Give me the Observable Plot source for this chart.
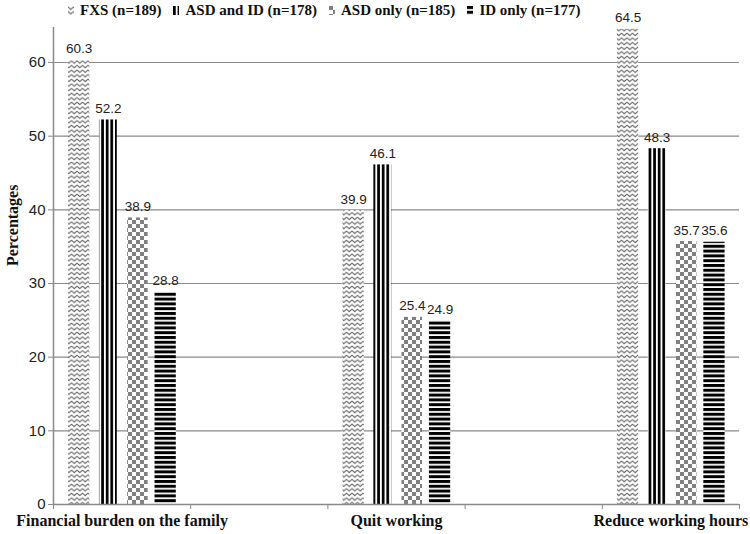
<!DOCTYPE html>
<html>
<head>
<meta charset="utf-8">
<script src="https://cdn.jsdelivr.net/npm/d3@7"></script>
<script src="https://cdn.jsdelivr.net/npm/@observablehq/plot@0.6"></script>
<style>
  html, body { margin: 0; padding: 0; background: #fff; }
  #wrap { position: relative; width: 750px; height: 534px; }
  #legend {
    position: absolute; left: 68px; top: 2px; display: flex; align-items: center;
    font-family: "Liberation Serif", "DejaVu Serif", serif; font-weight: bold;
    font-size: 15px; color: #111; white-space: nowrap;
  }
  #legend .item { display: flex; align-items: center; margin-right: 12px; }
  #legend svg { margin-right: 6px; }
</style>
</head>
<body>
<div id="wrap"><div id="legend"></div></div>
<script>
// ---- data ----
const categories = ["Financial burden on the family", "Quit working", "Reduce working hours"];
// Excel-style category axis with two blank categories between the groups
const axisCategories = ["Financial burden on the family", "", "Quit working", "", "Reduce working hours"];
const series = ["FXS (n=189)", "ASD and ID (n=178)", "ASD only (n=185)", "ID only (n=177)"];
const fxs     = [60.3, 39.9, 64.5];
const asdId   = [52.2, 46.1, 48.3];
const asdOnly = [38.9, 25.4, 35.7];
const idOnly  = [28.8, 24.9, 35.6];
const yTicks = [0, 10, 20, 30, 40, 50, 60];

// ---- styling / layout ----
const patternIds = ["pFxs", "pAsdId", "pAsdOnly", "pIdOnly"];
const barOffsets = [[0.11, 0.265], [0.335, 0.465], [0.54, 0.69], [0.74, 0.895]];
const grid = "#8a8a8a";
const sans = "'Liberation Sans', Arial, sans-serif";
const serif = "'Liberation Serif', 'Times New Roman', serif";

const values = [fxs, asdId, asdOnly, idOnly];
const rows = [];
series.forEach((s, j) => categories.forEach((c, i) => {
  rows.push({cat: c, series: s, j, slot: axisCategories.indexOf(c), value: values[j][i]});
}));
const x1 = d => d.slot + barOffsets[d.j][0];
const x2 = d => d.slot + barOffsets[d.j][1];

const plot = Plot.plot({
  width: 750,
  height: 534,
  marginLeft: 53,
  marginRight: 11,
  marginTop: 27,
  marginBottom: 30,
  style: {background: "transparent", fontFamily: sans, overflow: "visible"},
  x: {type: "linear", domain: [0, axisCategories.length]},
  y: {domain: [0, 64.75]},
  marks: [
    Plot.ruleY(yTicks.filter(d => d > 0), {stroke: grid, strokeWidth: 1.2}),
    ...series.map((s, j) => Plot.rectY(rows.filter(d => d.j === j), {
      x1, x2, y1: 0, y2: "value", fill: `url(#${patternIds[j]})`
    })),
    Plot.ruleX([0], {stroke: grid, strokeWidth: 1.5}),
    Plot.ruleY([0], {stroke: grid, strokeWidth: 1.5}),
    Plot.axisY({ticks: yTicks, tickSize: 5, tickPadding: 3, stroke: grid, fontSize: 15, fill: "#222", label: null}),
    Plot.axisX({ticks: d3.range(axisCategories.length + 1), tickSize: 5, tickFormat: () => "", stroke: grid, label: null}),
    Plot.axisX({
      ticks: categories.map(c => axisCategories.indexOf(c) + 0.5), tickSize: 0, tickPadding: 10,
      tickFormat: d => axisCategories[Math.floor(d)], fontSize: 16, fontWeight: "bold",
      fontFamily: serif, fill: "#111", label: null
    }),
    Plot.text(rows, {
      x: d => (x1(d) + x2(d)) / 2, y: "value", text: d => d.value.toFixed(1),
      lineAnchor: "bottom", dy: -7, fontSize: 13.5, fill: "#222", fontFamily: sans
    }),
    Plot.text(["Percentages"], {
      frameAnchor: "left", rotate: -90, dx: -41, fontSize: 16, fontWeight: "bold",
      fontFamily: serif, fill: "#111"
    })
  ]
});

const defs = `
<defs>
  <pattern id="pFxs" patternUnits="userSpaceOnUse" width="5.5" height="4.6">
    <rect width="5.5" height="4.6" fill="#fff"/>
    <path d="M-0.2,0.9 L2.75,3.4 L5.7,0.9" fill="none" stroke="#5a5a5a" stroke-width="1"/>
  </pattern>
  <pattern id="pAsdId" patternUnits="userSpaceOnUse" width="4.6" height="4">
    <rect width="4.6" height="4" fill="#fff"/>
    <rect x="0" width="2.7" height="4" fill="#000"/>
  </pattern>
  <pattern id="pAsdOnly" patternUnits="userSpaceOnUse" width="8" height="8">
    <rect width="8" height="8" fill="#fff"/>
    <rect x="0" y="0" width="4" height="4" fill="#808080"/>
    <rect x="4" y="4" width="4" height="4" fill="#808080"/>
  </pattern>
  <pattern id="pIdOnly" patternUnits="userSpaceOnUse" width="4" height="4.8">
    <rect width="4" height="4.8" fill="#fff"/>
    <rect y="0" width="4" height="3" fill="#000"/>
  </pattern>
</defs>`;
const svgNode = plot.tagName.toLowerCase() === "svg" ? plot : plot.querySelector("svg");
svgNode.insertAdjacentHTML("afterbegin", defs);
document.getElementById("wrap").appendChild(plot);

// legend (above the plot area)
const legend = d3.select("#legend");
series.forEach((s, j) => {
  const item = legend.append("div").attr("class", "item");
  const sw = item.append("svg").attr("width", 6).attr("height", 9);
  sw.append("rect").attr("width", 6).attr("height", 9).attr("fill", `url(#${patternIds[j]})`);
  item.append("span").text(s);
});
</script>
</body>
</html>
